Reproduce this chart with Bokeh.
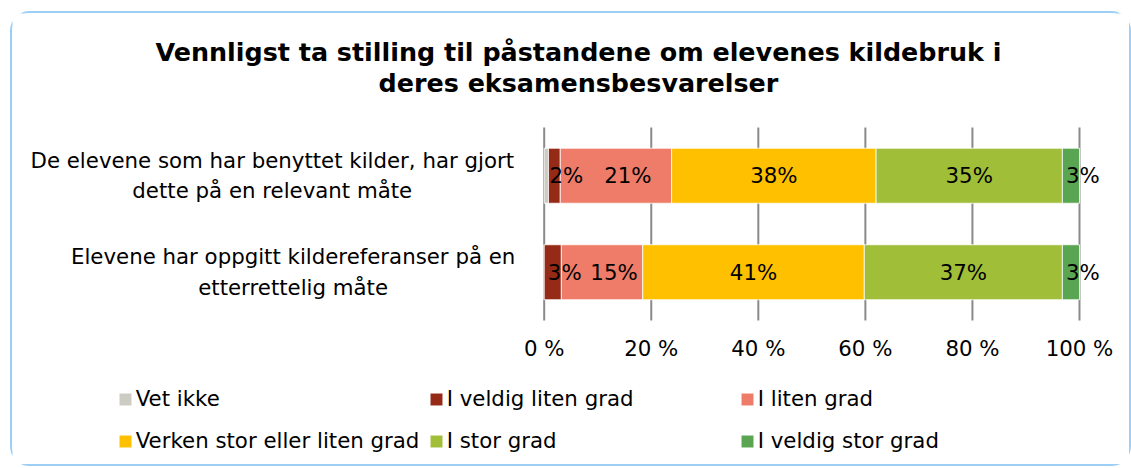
import numpy as np
from bokeh.plotting import figure
from bokeh.models import ColumnDataSource, Range1d, Legend, LegendItem
from bokeh.core.properties import value
from bokeh.embed import file_html
from bokeh.resources import INLINE

# ---------------- data ----------------
title_lines = ["Vennligst ta stilling til påstandene om elevenes kildebruk i",
               "deres eksamensbesvarelser"]
categories = ["De elevene som har benyttet kilder, har gjort\ndette på en relevant måte",
              "Elevene har oppgitt kildereferanser på en\netterrettelig måte"]
series = ["Vet ikke", "I veldig liten grad", "I liten grad",
          "Verken stor eller liten grad", "I stor grad", "I veldig stor grad"]
vet_ikke = [0.8, 0.0]
veldig_liten = [2.2, 3.2]
liten = [20.8, 15.2]
verken = [38.2, 41.4]
stor = [34.8, 37.0]
veldig_stor = [3.2, 3.2]
colors = ["#CDCCC3", "#952A17", "#EE7C69", "#FFC000", "#A1BE38", "#5AA552"]
tick_values = [0, 20, 40, 60, 80, 100]
tick_labels = ["0 %", "20 %", "40 %", "60 %", "80 %", "100 %"]

FONT = "DejaVu Sans"
FS = "21.3px"

n = len(categories)
ypos = [n - 0.5 - i for i in range(n)]          # first category on top
values = [vet_ikke, veldig_liten, liten, verken, stor, veldig_stor]
src = ColumnDataSource(data=dict(y=ypos, **{s: v for s, v in zip(series, values)}))

# the frame covers the whole canvas; value axis 0..100 sits in the middle of it
p = figure(width=1121, height=455, output_backend="svg", toolbar_location=None,
           x_range=Range1d(-99.33, 110.09), y_range=Range1d(-1.5337, 3.1813),
           x_axis_location=None, y_axis_location=None,
           min_border_left=0, min_border_right=0, min_border_top=0, min_border_bottom=0)
p.title.visible = False
p.styles = {"border": "2px solid #9DCFF6", "border-radius": "20px",
            "margin-left": "10px", "margin-top": "11px"}
p.outline_line_color = None
p.background_fill_color = "white"
p.border_fill_color = "white"
p.xgrid.visible = False
p.ygrid.visible = False

# vertical grid lines at the value ticks, spanning the category band
p.segment(x0=tick_values, x1=tick_values, y0=[0] * len(tick_values), y1=[n] * len(tick_values),
          line_color="#8A8A8A", line_width=2)

rs = p.hbar_stack(series, y="y", height=0.57, color=colors, source=src,
                  line_color="white", line_width=0.8)

# value tick labels
p.text(x=tick_values, y=[-0.29] * len(tick_values), text=tick_labels,
       text_align="center", text_baseline="middle",
       text_font=value(FONT), text_font_size=value(FS), text_color="black")

# data labels
vals = np.array(values, dtype=float)
ends = np.cumsum(vals, axis=0)
centers = ends - vals / 2
lx, ly, lt, lo = [], [], [], []
for i in range(vals.shape[0]):
    for j in range(n):
        v = vals[i, j]
        if v >= 1.5:
            lx.append(centers[i, j]); ly.append(ypos[j]); lt.append(f"{int(round(v))}%")
            lo.append(12 if v < 30 else 0)
p.text(x="x", y="y", text="t", x_offset="o",
       source=ColumnDataSource(data=dict(x=lx, y=ly, t=lt, o=lo)),
       text_align="center", text_baseline="middle",
       text_font=value(FONT), text_font_size=value(FS), text_color="black")

# category labels
p.text(x=[-50.8, -46.9], y=ypos, text=categories,
       text_align="center", text_baseline="middle", text_line_height=1.22,
       text_font=value(FONT), text_font_size=value(FS), text_color="black")

# title
p.text(x=[6.4, 6.4], y=[2.785, 2.466], text=title_lines,
       text_align="center", text_baseline="middle",
       text_font=value(FONT), text_font_size=value("25.4px"), text_font_style="bold",
       text_color="black")

# legend
items = [LegendItem(label=s, renderers=[r]) for s, r in zip(series, rs)]
legend = Legend(items=items, location=(104.7, 9.5), orientation="horizontal", ncols=3,
                glyph_width=16, glyph_height=16, label_standoff=3, label_height=36,
                spacing=6, padding=0, margin=0, border_line_color=None,
                background_fill_alpha=0, label_text_font=FONT, label_text_font_size=FS,
                label_text_color="black", label_width=286)
p.add_layout(legend, "center")

open("out.html", "w").write(file_html(p, INLINE))
